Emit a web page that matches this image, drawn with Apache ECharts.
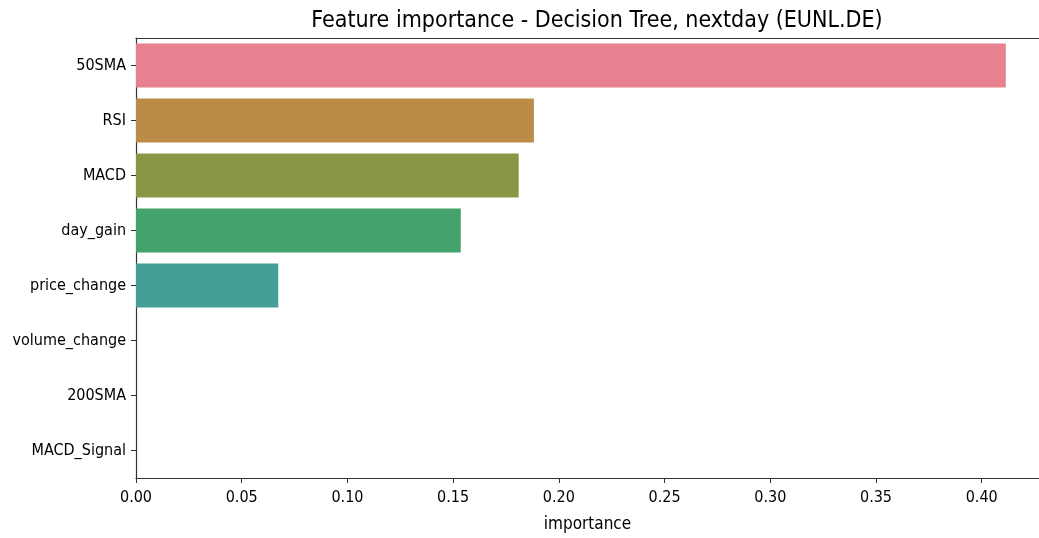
<!DOCTYPE html>
<html><head><meta charset="utf-8">
<script src="https://cdn.jsdelivr.net/npm/echarts@6/dist/echarts.min.js"></script>
<style>html,body{margin:0;padding:0;background:#fff}#c{width:1039px;height:538px}</style>
</head><body><div id="c"></div>
<script>
const categories = ['50SMA','RSI','MACD','day_gain','price_change','volume_change','200SMA','MACD_Signal'];
const importance = [0.4114, 0.1882, 0.1810, 0.1536, 0.0673, 0, 0, 0];
const barColors = ['#e7808f','#bb8b48','#8b9645','#43a36a','#469e99','#4a9bbc','#6e8fd6','#b07fd6'];
const xTicks = [0,0.05,0.10,0.15,0.20,0.25,0.30,0.35,0.40];
const FONT = '"DejaVu Sans Condensed","DejaVu Sans",sans-serif';
const chart = echarts.init(document.getElementById('c'));
chart.setOption({
  animation:false,
  title:{text:'Feature importance - Decision Tree, nextday (EUNL.DE)', left:592, textAlign:'center', top:5,
    textStyle:{fontFamily:FONT,fontSize:23,fontWeight:'normal',color:'#000'}},
  grid:{left:136, top:38, right:0, height:440, containLabel:false, outerBoundsMode:'none'},
  xAxis:[{type:'value', min:0, max:0.4271, interval:0.05,
    name:'importance', nameLocation:'middle', nameGap:38,
    nameTextStyle:{fontFamily:FONT,fontSize:17,color:'#000'},
    axisLine:{show:true,lineStyle:{color:'#333',width:1.2}},
    axisTick:{show:true,length:5,lineStyle:{color:'#333'}},
    axisLabel:{showMaxLabel:false, fontFamily:FONT,fontSize:16,color:'#000',margin:12,
      formatter:v=>{const t=xTicks.find(x=>Math.abs(x-v)<1e-9);return t===undefined?'':t.toFixed(2);}},
    splitLine:{show:false}},
   {type:'value', position:'top', min:0, max:0.4271,
    axisLine:{show:true,lineStyle:{color:'#333',width:1.2}},
    axisTick:{show:false}, axisLabel:{show:false}, splitLine:{show:false}}],
  yAxis:{type:'category', data:categories, inverse:true,
    axisLine:{show:true,lineStyle:{color:'#333',width:1.2}},
    axisTick:{show:true,alignWithLabel:true,length:5,lineStyle:{color:'#333'}},
    axisLabel:{fontFamily:FONT,fontSize:16,color:'#000',margin:10},
    splitLine:{show:false}},
  series:[{type:'bar', barWidth:'80%', xAxisIndex:0,
    data:importance.map((v,i)=>({value:v,itemStyle:{color:barColors[i]}}))}]
});
</script></body></html>
